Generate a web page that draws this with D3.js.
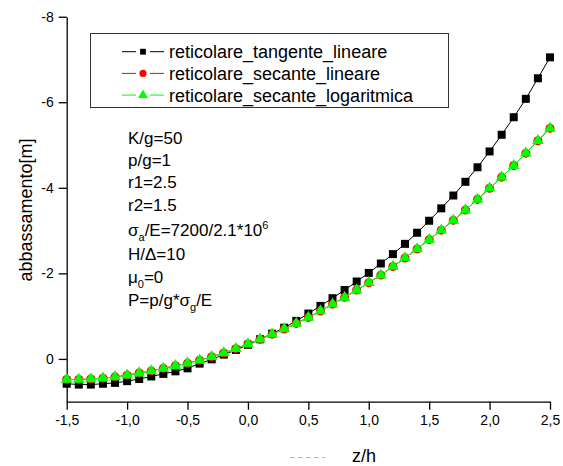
<!DOCTYPE html>
<html>
<head>
<meta charset="utf-8">
<script src="https://cdn.jsdelivr.net/npm/d3@7/dist/d3.min.js"></script>
<style>
  html, body { margin: 0; padding: 0; background: #fff; }
  svg { display: block; font-family: "Liberation Sans", Arial, sans-serif; }
</style>
</head>
<body>
<svg id="chart" width="563" height="466"></svg>
<script>
// z/h stations (step 0.1)
const zh = [-1.5, -1.4, -1.3, -1.2, -1.1, -1.0, -0.9, -0.8, -0.7, -0.6,
            -0.5, -0.4, -0.3, -0.2, -0.1, 0.0, 0.1, 0.2, 0.3, 0.4,
            0.5, 0.6, 0.7, 0.8, 0.9, 1.0, 1.1, 1.2, 1.3, 1.4,
            1.5, 1.6, 1.7, 1.8, 1.9, 2.0, 2.1, 2.2, 2.3, 2.4, 2.5];

// abbassamento [m]
const tangenteLineare = [0.58, 0.60, 0.60, 0.58, 0.56, 0.52, 0.47, 0.41, 0.35, 0.29,
                         0.22, 0.11, 0.01, -0.10, -0.21, -0.33, -0.46, -0.59, -0.73, -0.89,
                         -1.06, -1.24, -1.42, -1.61, -1.81, -2.01, -2.23, -2.45, -2.69, -2.95,
                         -3.23, -3.52, -3.82, -4.14, -4.48, -4.85, -5.24, -5.65, -6.08, -6.56, -7.05];
const secanteLineare = [0.48, 0.48, 0.47, 0.45, 0.42, 0.38, 0.33, 0.28, 0.22, 0.16,
                        0.10, 0.03, -0.05, -0.14, -0.24, -0.35, -0.46, -0.58, -0.70, -0.83,
                        -0.97, -1.12, -1.28, -1.44, -1.61, -1.78, -1.96, -2.16, -2.36, -2.57,
                        -2.79, -3.01, -3.24, -3.48, -3.73, -3.99, -4.25, -4.52, -4.81, -5.10, -5.39];
const secanteLogaritmica = [0.48, 0.48, 0.47, 0.45, 0.42, 0.38, 0.33, 0.28, 0.22, 0.16,
                            0.10, 0.03, -0.05, -0.14, -0.24, -0.35, -0.46, -0.58, -0.70, -0.83,
                            -0.97, -1.12, -1.28, -1.44, -1.61, -1.78, -1.96, -2.16, -2.36, -2.57,
                            -2.79, -3.01, -3.24, -3.48, -3.73, -3.99, -4.25, -4.52, -4.81, -5.10, -5.39];

const seriesNames = ["reticolare_tangente_lineare", "reticolare_secante_lineare", "reticolare_secante_logaritmica"];
const xTickValues = [-1.5, -1.0, -0.5, 0.0, 0.5, 1.0, 1.5, 2.0, 2.5];
const xMinorTicks = [-1.25, -0.75, -0.25, 0.25, 0.75, 1.25, 1.75, 2.25];
const yTickValues = [-8, -6, -4, -2, 0];
const yMinorTicks = [-7, -5, -3, -1];

const svg = d3.select("#chart");

const x = d3.scaleLinear().domain([-1.5, 2.5]).range([66.7, 550]);
const y = d3.scaleLinear().domain([-8, 1]).range([16.7, 401.7]);

// axes
const fmtX = d => d.toFixed(1).replace(".", ",").replace("\u2212", "-");
const fmtY = d => String(d);

const gx = svg.append("g").attr("transform", `translate(0,${y(1)})`);
gx.call(d3.axisBottom(x).tickValues(xMinorTicks).tickSize(5).tickSizeOuter(0).tickFormat(""));
gx.call(d3.axisBottom(x).tickValues(xTickValues).tickSize(8).tickSizeOuter(0).tickPadding(5).tickFormat(fmtX));

const gy = svg.append("g").attr("transform", `translate(${x(-1.5)},0)`);
gy.call(d3.axisLeft(y).tickValues(yMinorTicks).tickSize(5).tickSizeOuter(0).tickFormat(""));
gy.call(d3.axisLeft(y).tickValues(yTickValues).tickSize(8).tickSizeOuter(0).tickPadding(5).tickFormat(fmtY));

svg.selectAll(".domain").attr("stroke", "#000").attr("stroke-width", 1.3);
svg.selectAll(".tick line").attr("stroke", "#000").attr("stroke-width", 1.3);
svg.selectAll(".tick text").attr("font-size", 14).attr("fill", "#000")
   .attr("font-family", "Liberation Sans, Arial, sans-serif");

// axis titles
svg.append("text").attr("x", 352).attr("y", 462).attr("font-size", 18).text("z/h");
svg.append("line").attr("x1", 290).attr("x2", 325).attr("y1", 457.5).attr("y2", 457.5)
   .attr("stroke", "#bbb").attr("stroke-width", 1).attr("stroke-dasharray", "5,3");
svg.append("text")
   .attr("transform", "translate(32,210) rotate(-90)")
   .attr("text-anchor", "middle").attr("font-size", 18).text("abbassamento[m]");

// series
const series = [
  { name: seriesNames[0], values: tangenteLineare, color: "#000", symbol: d3.symbolSquare, size: 64, lsize: 34 },
  { name: seriesNames[1], values: secanteLineare, color: "#ff0000", symbol: d3.symbolCircle, size: 64, lsize: 40 },
  { name: seriesNames[2], values: secanteLogaritmica, color: "#00ff00", symbol: d3.symbolTriangle, size: 58, lsize: 42 }
];

const line = d3.line().x((d, i) => x(zh[i])).y(d => y(d));
const plot = svg.append("g");
series.forEach(s => {
  plot.append("path").attr("d", line(s.values)).attr("fill", "none")
      .attr("stroke", s.color).attr("stroke-width", 1);
  plot.selectAll(null).data(s.values).enter().append("path")
      .attr("transform", (d, i) => `translate(${x(zh[i])},${y(d)})`)
      .attr("d", d3.symbol().type(s.symbol).size(s.size))
      .attr("fill", s.color);
});

// legend
const lg = svg.append("g");
lg.append("rect").attr("x", 90.5).attr("y", 33.5).attr("width", 358).attr("height", 74)
  .attr("fill", "#fff").attr("stroke", "#333").attr("stroke-width", 1);
series.forEach((s, k) => {
  const cy = 51.7 + k * 21.7;
  [[122, 136], [150, 164]].forEach(([a, b]) => {
    lg.append("line").attr("x1", a).attr("x2", b).attr("y1", cy).attr("y2", cy)
      .attr("stroke", s.color).attr("stroke-width", 1);
  });
  lg.append("path").attr("transform", `translate(143,${cy})`)
    .attr("d", d3.symbol().type(s.symbol).size(s.lsize)).attr("fill", s.color);
  lg.append("text").attr("x", 169).attr("y", cy + 6.5).attr("font-size", 18).text(s.name);
});

// parameters block
const addLine = (yy, parts) => {
  const t = svg.append("text").attr("x", 128).attr("y", yy).attr("font-size", 17);
  parts.forEach(p => {
    const ts = t.append("tspan").text(p.t);
    if (p.sub) ts.attr("font-size", 11).attr("dy", 5);
    if (p.sup) ts.attr("font-size", 11).attr("dy", -7);
    if (p.back) ts.attr("dy", p.back);
  });
};
addLine(144, [{ t: "K/g=50" }]);
addLine(166, [{ t: "p/g=1" }]);
addLine(188, [{ t: "r1=2.5" }]);
addLine(211, [{ t: "r2=1.5" }]);
addLine(236, [{ t: "\u03c3" }, { t: "a", sub: true }, { t: "/E=7200/2.1*10", back: -5 }, { t: "6", sup: true }]);
addLine(260, [{ t: "H/\u0394=10" }]);
addLine(283, [{ t: "\u03bc" }, { t: "0", sub: true }, { t: "=0", back: -5 }]);
addLine(306, [{ t: "P=p/g*\u03c3" }, { t: "g", sub: true }, { t: "/E", back: -5 }]);
</script>
</body>
</html>
